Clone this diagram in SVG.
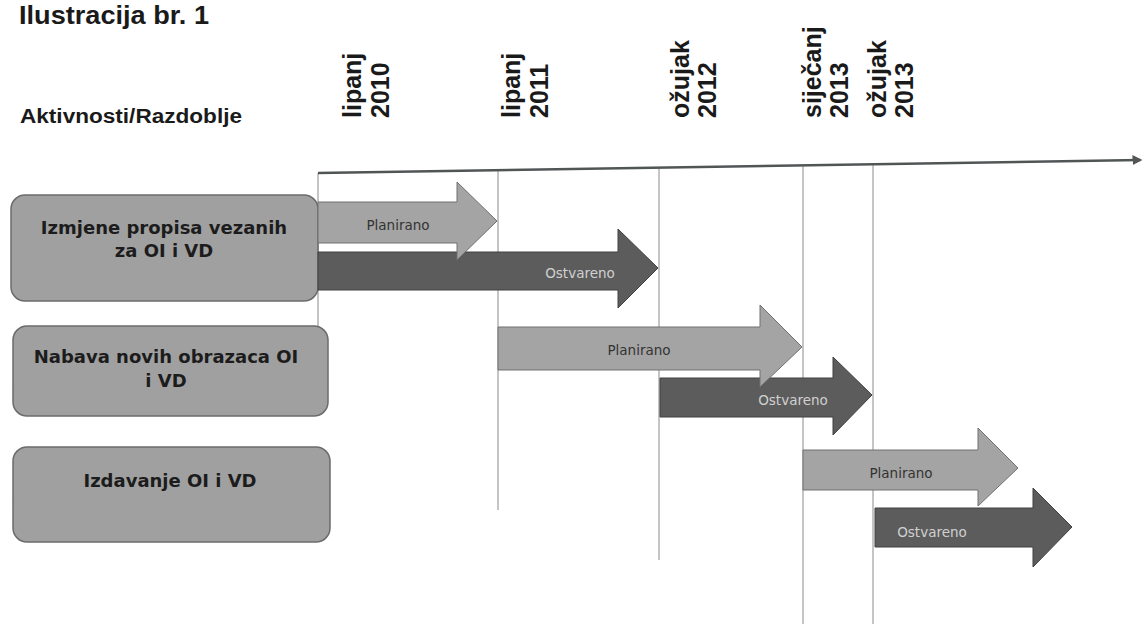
<svg xmlns="http://www.w3.org/2000/svg" width="1143" height="624" viewBox="0 0 1143 624">
<style>
.hdr{font-family:"Liberation Sans",Arial,sans-serif;font-weight:bold;fill:#1a1a1a}
.date{font-family:"Liberation Sans",Arial,sans-serif;font-weight:bold;font-size:25px;fill:#1a1a1a}
.box{fill:#a0a0a0;stroke:#6b6b6b;stroke-width:1.5}
.btxt{font-family:"DejaVu Sans",Verdana,sans-serif;font-weight:bold;font-size:18px;fill:#1c1c1c;text-anchor:middle}
.plan{fill:#a4a4a4;stroke:#707070;stroke-width:1}
.act{fill:#5c5c5c;stroke:#404040;stroke-width:1}
.ptxt{font-family:"DejaVu Sans",Verdana,sans-serif;font-size:13.5px;fill:#333;text-anchor:middle}
.atxt{font-family:"DejaVu Sans",Verdana,sans-serif;font-size:13.5px;fill:#d0d0d0;text-anchor:middle}
.grid{stroke:#8a8a8a;stroke-width:1;fill:none}
</style>
<defs>
<marker id="ah" markerWidth="4" markerHeight="4" refX="3" refY="2" orient="auto" markerUnits="strokeWidth">
<path d="M0,0 L4,2 L0,4 z" fill="#555"/>
</marker>
</defs>
<rect width="1143" height="624" fill="#ffffff"/>
<g id="header">
<text class="hdr" x="19" y="24" font-size="25" textLength="190" lengthAdjust="spacingAndGlyphs">Ilustracija br. 1</text>
<text class="hdr" x="20" y="123" font-size="20" textLength="222" lengthAdjust="spacingAndGlyphs">Aktivnosti/Razdoblje</text>
</g>
<g id="dates">
<text class="date" transform="translate(361,118) rotate(-90)">lipanj</text>
<text class="date" transform="translate(389,118) rotate(-90)">2010</text>
<text class="date" transform="translate(520,118) rotate(-90)">lipanj</text>
<text class="date" transform="translate(548,118) rotate(-90)">2011</text>
<text class="date" transform="translate(689,118) rotate(-90)">ožujak</text>
<text class="date" transform="translate(716,118) rotate(-90)">2012</text>
<text class="date" transform="translate(821,118) rotate(-90)">siječanj</text>
<text class="date" transform="translate(848,118) rotate(-90)">2013</text>
<text class="date" transform="translate(886,118) rotate(-90)">ožujak</text>
<text class="date" transform="translate(913,118) rotate(-90)">2013</text>
</g>
<g id="connectors">
<line class="grid" x1="318" y1="173" x2="318" y2="326"/>
<line class="grid" x1="498" y1="170.5" x2="498" y2="510"/>
<line class="grid" x1="659" y1="168.2" x2="659" y2="560"/>
<line class="grid" x1="803" y1="166.2" x2="803" y2="624"/>
<line class="grid" x1="873" y1="165.2" x2="873" y2="624"/>
<line x1="318" y1="173" x2="1140" y2="160" stroke="#505555" stroke-width="2.5" marker-end="url(#ah)"/>
</g>
<g id="row1">
<rect class="box" x="11" y="195" width="307" height="106" rx="14"/>
<text class="btxt" x="164" y="234">Izmjene propisa vezanih</text>
<text class="btxt" x="164" y="257">za OI i VD</text>
</g>
<g id="row1-actual">
<path class="act" d="M318,252 L618,252 L618,229 L658,268 L618,308 L618,290 L318,290 Z"/>
<text class="atxt" x="580" y="278">Ostvareno</text>
</g>
<g id="row1-planned">
<path class="plan" d="M318,202 L457,202 L457,182 L497,221 L457,260 L457,243 L318,243 Z"/>
<text class="ptxt" x="398" y="230">Planirano</text>
</g>
<g id="row2">
<rect class="box" x="13" y="326" width="315" height="90" rx="14"/>
<text class="btxt" x="166" y="363">Nabava novih obrazaca OI</text>
<text class="btxt" x="166" y="387">i VD</text>
</g>
<g id="row2-actual">
<path class="act" d="M660,378 L833,378 L833,357 L872,395 L833,435 L833,417 L660,417 Z"/>
<text class="atxt" x="793" y="405">Ostvareno</text>
</g>
<g id="row2-planned">
<path class="plan" d="M498,327 L760,327 L760,305 L802,347 L760,387 L760,370 L498,370 Z"/>
<text class="ptxt" x="639" y="355">Planirano</text>
</g>
<g id="row3">
<rect class="box" x="13" y="447" width="317" height="95" rx="14"/>
<text class="btxt" x="170" y="487">Izdavanje OI i VD</text>
</g>
<g id="row3-actual">
<path class="act" d="M875,508 L1033,508 L1033,488 L1072,527 L1033,567 L1033,547 L875,547 Z"/>
<text class="atxt" x="932" y="537">Ostvareno</text>
</g>
<g id="row3-planned">
<path class="plan" d="M803,450 L978,450 L978,428 L1018,468 L978,506 L978,490 L803,490 Z"/>
<text class="ptxt" x="901" y="478">Planirano</text>
</g>
</svg>
